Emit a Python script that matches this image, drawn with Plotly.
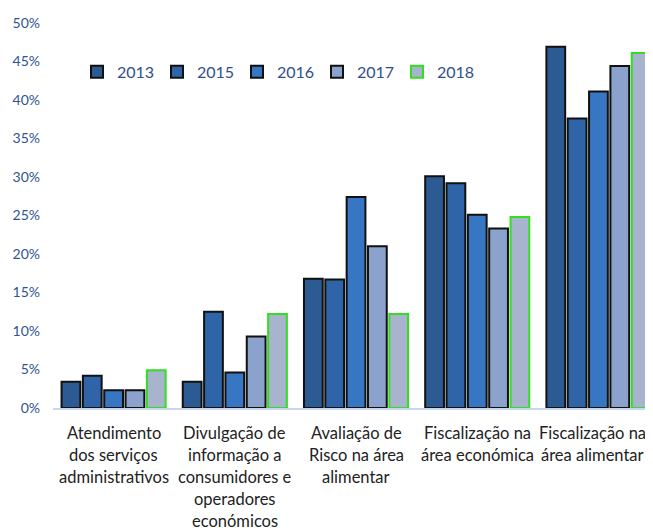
import plotly.graph_objects as go

categories = ["Atendimento<br>dos serviços<br>administrativos",
              "Divulgação de<br>informação a<br>consumidores e<br>operadores<br>económicos",
              "Avaliação de<br>Risco na área<br>alimentar",
              "Fiscalização na<br>área económica",
              "Fiscalização na<br>área alimentar"]
cat_keys = ["c1", "c2", "c3", "c4", "c5"]
years = ["2013", "2015", "2016", "2017", "2018"]
values = {
    "2013": [3.4, 3.4, 16.8, 30.1, 46.9],
    "2015": [4.2, 12.5, 16.7, 29.2, 37.6],
    "2016": [2.3, 4.6, 27.4, 25.1, 41.1],
    "2017": [2.3, 9.3, 21.0, 23.3, 44.4],
    "2018": [4.9, 12.2, 12.2, 24.8, 46.1],
}
colors = {"2013": "#2c5a93", "2015": "#2f64a8", "2016": "#3776c2",
          "2017": "#8aa2cc", "2018": "#a8b3cd"}
yticks = [0, 5, 10, 15, 20, 25, 30, 35, 40, 45, 50]

fig = go.Figure()
for y in years:
    fig.add_trace(go.Bar(
        x=cat_keys, y=[v / 100 for v in values[y]], name=y,
        marker=dict(color=colors[y],
                    line=dict(color="#33dd22" if y == "2018" else "#111111", width=2)),
    ))

annotations = []
for k, (key, label) in enumerate(zip(cat_keys, categories)):
    for i, line in enumerate(label.split("<br>")):
        annotations.append(dict(x=key, y=0, xref="x", yref="y", text=line,
                                showarrow=False, yanchor="middle",
                                yshift=-25 - i * 22, xshift=-6 if k == 4 else 0,
                                font=dict(family="Lato, sans-serif", size=16.5, color="#222222")))

fig.update_layout(
    width=645, height=523,
    margin=dict(l=45, r=0, t=15, b=123),
    paper_bgcolor="white", plot_bgcolor="white",
    barmode="group", bargap=0.12, bargroupgap=0.12,
    font=dict(family="Lato, sans-serif"),
    showlegend=True,
    legend=dict(orientation="h", x=0.04, y=0.873, xanchor="left", yanchor="middle",
                bgcolor="rgba(0,0,0,0)", entrywidth=35, entrywidthmode="pixels",
                font=dict(size=16, color="#2f4f8a"), itemwidth=30),
    annotations=annotations,
)
fig.update_xaxes(range=[-0.5, 4.45], showticklabels=False, showgrid=False,
                 showline=True, linecolor="#c8d7ec", linewidth=2, zeroline=False)
fig.update_yaxes(range=[0, 0.5], tickvals=[t / 100 for t in yticks],
                 ticktext=[f"{t}%" for t in yticks], showgrid=False, zeroline=False,
                 tickfont=dict(family="Lato, sans-serif", size=14, color="#2f5590"),
                 ticks="", ticklabelstandoff=12)
fig.write_html("out.html")
